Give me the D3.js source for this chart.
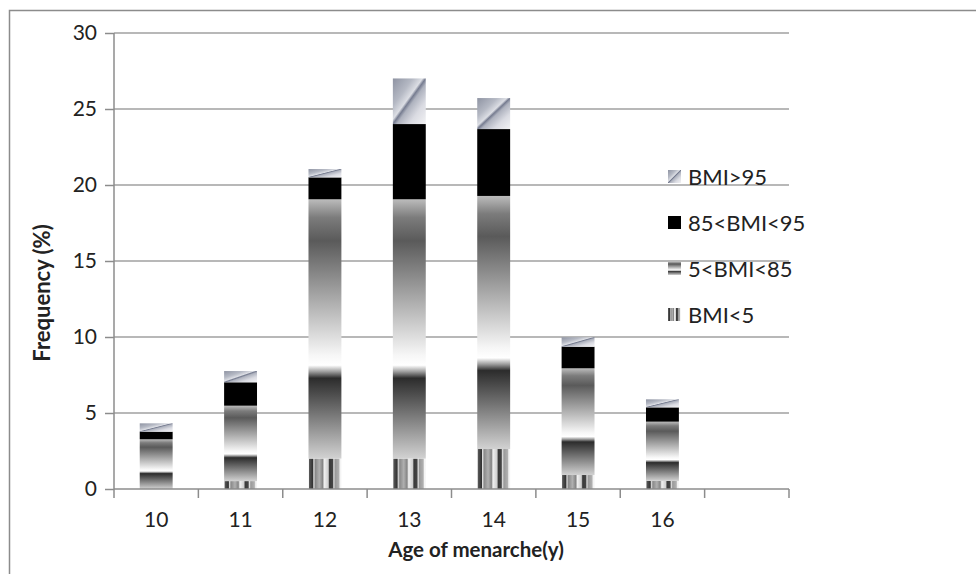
<!DOCTYPE html>
<html>
<head>
<meta charset="utf-8">
<script src="https://cdn.jsdelivr.net/npm/d3@7"></script>
<style>
  body { margin: 0; background: #fff; }
  svg text { font-family: Lato, "Open Sans", sans-serif; fill: #222; }
</style>
</head>
<body>
<div id="chart"></div>
<script>
// data (percent)
var ages = ["10", "11", "12", "13", "14", "15", "16", ""];
var series = ["BMI<5", "5<BMI<85", "85<BMI<95", "BMI>95"];
var bmiUnder5   = [0,    0.52, 2.0,   2.0,   2.63, 0.92, 0.53];
var bmi5to85    = [3.27, 4.96, 17.06, 17.06, 16.65, 7.02, 3.9];
var bmi85to95   = [0.5,  1.54, 1.44,  4.95,  4.4,  1.42, 0.94];
var bmiOver95   = [0.55, 0.74, 0.55,  3.0,   2.04, 0.62, 0.53];
var yTicks = [0, 5, 10, 15, 20, 25, 30];

var chart = {};
chart.w = 976;
chart.h = 574;
chart.left = 114;
chart.right = 789;
chart.top = 33;
chart.bottom = 489;

var rows = ages.slice(0, 7).map(function(a, i) {
  return { age: a, "BMI<5": bmiUnder5[i], "5<BMI<85": bmi5to85[i],
           "85<BMI<95": bmi85to95[i], "BMI>95": bmiOver95[i] };
});
var stacked = d3.stack().keys(series)(rows);

var svg = d3.select("#chart").append("svg")
  .attr("width", chart.w)
  .attr("height", chart.h);

// fills that imitate the office-style pattern gradients
var defs = svg.append("defs");
function grad(id, x1, y1, x2, y2, stops) {
  var g = defs.append("linearGradient").attr("id", id)
    .attr("x1", x1).attr("y1", y1).attr("x2", x2).attr("y2", y2);
  stops.forEach(function(s) {
    g.append("stop").attr("offset", s[0]).attr("stop-color", s[1]);
  });
}
grad("gStripes", 0, 0, 1, 0, [
  [0, "#f2f2f2"], [0.03, "#555"], [0.13, "#333"], [0.16, "#dcdcdc"],
  [0.21, "#8a8a8a"], [0.33, "#b0b0b0"], [0.43, "#858585"], [0.48, "#f0f0f0"],
  [0.6, "#cfcfcf"], [0.64, "#3a3a3a"], [0.73, "#444"], [0.77, "#e0e0e0"],
  [0.81, "#9a9a9a"], [0.92, "#b0b0b0"], [0.96, "#f4f4f4"], [1, "#f4f4f4"]
]);
grad("gMid", 0, 1, 0, 0, [
  [0, "#d2d2d2"], [0.31, "#2c2c2c"], [0.335, "#9c9c9c"], [0.36, "#ffffff"],
  [0.40, "#f6f6f6"], [0.84, "#5a5a5a"], [0.93, "#7c7c7c"], [1, "#bcbcbc"]
]);
grad("gTop", 0, 0, 1, 1, [
  [0, "#8e93a2"], [0.3, "#b5b9c4"], [0.45, "#dcdee4"], [0.5, "#767c90"],
  [0.56, "#aeb2be"], [0.75, "#dadbe2"], [1, "#f2f2f4"]
]);
var fills = {
  "BMI<5": "url(#gStripes)",
  "5<BMI<85": "url(#gMid)",
  "85<BMI<95": "#000",
  "BMI>95": "url(#gTop)"
};

// outer chart border
svg.append("rect")
  .attr("x", 9.5).attr("y", 10.5)
  .attr("width", 1000).attr("height", 1000)
  .attr("fill", "none")
  .attr("stroke", "#8c8c8c")
  .attr("stroke-width", 1.5);

var x = d3.scaleBand()
  .domain(ages)
  .range([chart.left, chart.right])
  .paddingInner(0.61)
  .paddingOuter(0.305);

var y = d3.scaleLinear()
  .domain([0, 30])
  .range([chart.bottom, chart.top]);

// gridlines
svg.append("g")
  .selectAll("line")
  .data(yTicks.slice(1))
  .enter().append("line")
    .attr("x1", chart.left).attr("x2", chart.right)
    .attr("y1", function(d) { return y(d); })
    .attr("y2", function(d) { return y(d); })
    .attr("stroke", "#a0a0a0")
    .attr("stroke-width", 1.5);

// bars
svg.append("g")
  .selectAll("g")
  .data(stacked)
  .enter().append("g")
    .attr("fill", function(d) { return fills[d.key]; })
  .selectAll("rect")
  .data(function(d) { return d; })
  .enter().append("rect")
    .attr("x", function(d) { return x(d.data.age); })
    .attr("width", x.bandwidth())
    .attr("y", function(d) { return y(d[1]); })
    .attr("height", function(d) { return Math.max(0, y(d[0]) - y(d[1])); });

// y axis
var yAxis = svg.append("g")
  .attr("transform", "translate(" + chart.left + ",0)")
  .call(d3.axisLeft(y).tickValues(yTicks).tickSize(9).tickPadding(8));
yAxis.attr("font-size", null);
yAxis.selectAll("text").style("font-size", "21px");
yAxis.selectAll("path, line").attr("stroke", "#8c8c8c").attr("stroke-width", 1.5);
yAxis.select(".domain").attr("d", "M0," + chart.bottom + "V" + chart.top);

// x axis: labels centred in bands, ticks on category boundaries
var xAxis = svg.append("g")
  .attr("transform", "translate(0," + chart.bottom + ")")
  .call(d3.axisBottom(x).tickSize(0).tickPadding(23));
xAxis.attr("font-size", null);
xAxis.select(".domain").remove();
xAxis.selectAll("text").style("font-size", "21px");

var gap = (x.step() - x.bandwidth()) / 2;
var bounds = ages.map(function(a) { return x(a) - gap; });
bounds.push(x(ages[ages.length - 1]) + x.bandwidth() + gap);

svg.append("line")
  .attr("x1", chart.left).attr("x2", chart.right)
  .attr("y1", chart.bottom).attr("y2", chart.bottom)
  .attr("stroke", "#8c8c8c").attr("stroke-width", 1.5);
svg.append("g")
  .selectAll("line")
  .data(bounds)
  .enter().append("line")
    .attr("x1", function(d) { return d; })
    .attr("x2", function(d) { return d; })
    .attr("y1", chart.bottom).attr("y2", chart.bottom + 9)
    .attr("stroke", "#8c8c8c").attr("stroke-width", 1.5);

// axis titles
svg.append("text")
  .attr("x", 476)
  .attr("y", 557)
  .attr("text-anchor", "middle")
  .style("font-size", "20.5px")
  .style("font-weight", "bold")
  .text("Age of menarche(y)");

svg.append("text")
  .attr("transform", "translate(50,293) rotate(-90)")
  .attr("text-anchor", "middle")
  .style("font-size", "22px")
  .style("font-weight", "bold")
  .text("Frequency (%)");

// legend, top entry first
var legendOrder = series.slice().reverse();
var legend = svg.append("g")
  .selectAll("g")
  .data(legendOrder)
  .enter().append("g")
    .attr("transform", function(d, i) { return "translate(668," + (170 + i * 46) + ")"; });
legend.append("rect")
  .attr("width", 13).attr("height", 13)
  .attr("fill", function(d) { return fills[d]; });
legend.append("text")
  .attr("x", 20)
  .attr("y", 14.5)
  .style("font-size", "22px")
  .text(function(d) { return d; });
</script>
</body>
</html>
